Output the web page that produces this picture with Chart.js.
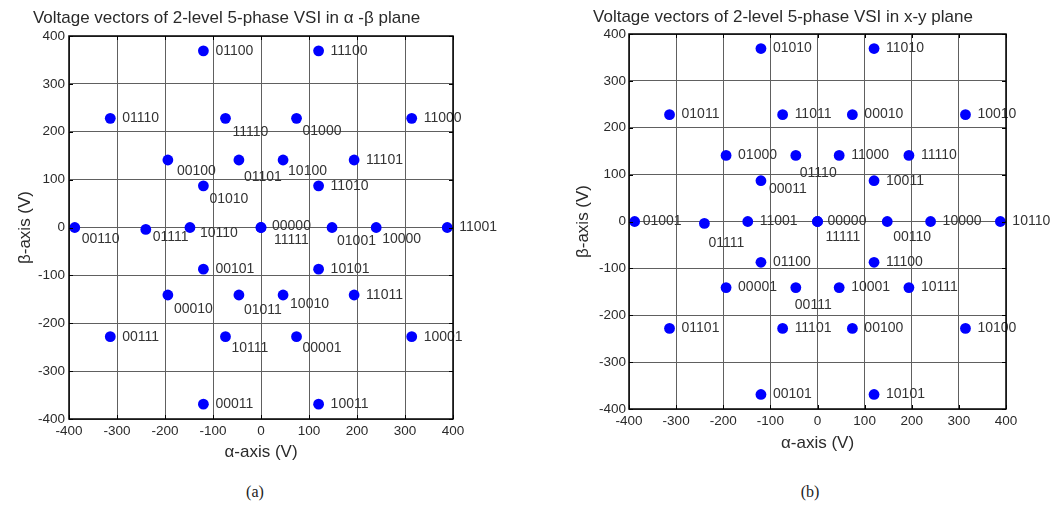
<!DOCTYPE html>
<html>
<head>
<meta charset="utf-8">
<script src="https://cdn.jsdelivr.net/npm/chart.js@4.4.0/dist/chart.umd.min.js"></script>
<style>
  html, body { margin:0; padding:0; background:#fff; overflow:hidden; width:1051px; height:508px; }
  .wrap { position:absolute; }
  .cap { position:absolute; font-family:"Liberation Serif", "Times New Roman", serif; font-size:16px; color:#222; transform:translate(-50%,-50%); }
</style>
</head>
<body>
<div class="wrap" id="w1" style="left:0px;top:0px;width:522px;height:470px;"><canvas id="c1"></canvas></div>
<div class="wrap" id="w2" style="left:560px;top:0px;width:515px;height:460px;"><canvas id="c2"></canvas></div>
<div class="cap" style="left:255px;top:492px;">(a)</div>
<div class="cap" style="left:810px;top:492px;">(b)</div>
<script>
// ---- Data: alpha-beta plane ----
const abLabels = ['01100','11100','01110','11110','01000','11000','00100','01101','10100','11101','01010','11010',
  '00110','01111','10110','00000','11111','01001','10000','11001',
  '00101','10101','00010','01011','10010','11011','00111','10111','00001','10001','00011','10011'];
const abX = [-120,120,-314,-74,74,314,-194,-46,46,194,-120,120,
  -388,-240,-148,0,0,148,240,388,
  -120,120,-194,-46,46,194,-314,-74,74,314,-120,120];
const abY = [369,369,228,228,228,228,141,141,141,141,87,87,
  0,-4,0,0,0,0,0,0,
  -87,-87,-141,-141,-141,-141,-228,-228,-228,-228,-369,-369];

// ---- Data: x-y plane ----
const xyLabels = ['01010','11010','01011','11011','00010','10010','01000','01110','11000','11110','00011','10011',
  '01001','01111','11001','00000','11111','00110','10000','10110',
  '01100','11100','00001','00111','10001','10111','01101','11101','00100','10100','00101','10101'];
const xyX = [-120,120,-314,-74,74,314,-194,-46,46,194,-120,120,
  -388,-240,-148,0,0,148,240,388,
  -120,120,-194,-46,46,194,-314,-74,74,314,-120,120];
const xyY = [369,369,228,228,228,228,141,141,141,141,87,87,
  0,-4,0,0,0,0,0,0,
  -87,-87,-141,-141,-141,-141,-228,-228,-228,-228,-369,-369];

const axisMin = -400, axisMax = 400, axisStep = 100;

// ---- Label placement (styling, not data) ----
const abOffsets = {
  '11110':[7,14],'01000':[6,13],'00100':[9,11],'01101':[5,17],'10100':[5,11],'01010':[6,13],
  '00110':[7,12],'01111':[7,8],'10110':[10,6],'00000':[11,-1],'11111':[13,13],'01001':[5,14],
  '10000':[6,12],'00010':[6,14],'01011':[5,15],'10010':[7,9],'10111':[6,11],'00001':[6,11]
};
const xyOffsets = {
  '01110':[4,18],'00011':[8,8],'01111':[4,20],'11111':[8,16],'00110':[6,16],'00111':[-1,18],
  '00000':[10,0],'01001':[8,0]
};

const FONT = '"Liberation Sans", Arial, sans-serif';

const labelPlugin = {
  id:'pointLabels',
  afterDatasetsDraw(chart) {
    const ds = chart.data.datasets[0];
    const meta = chart.getDatasetMeta(0);
    const offs = chart.options.plugins.pointLabels.offsets;
    const ctx = chart.ctx;
    ctx.save();
    ctx.font = '14px ' + FONT;
    ctx.fillStyle = '#333';
    ctx.textAlign = 'left';
    ctx.textBaseline = 'middle';
    meta.data.forEach((el, i) => {
      const name = ds.names[i];
      const o = offs[name] || [12, 0];
      ctx.fillText(name, el.x + o[0], el.y + o[1]);
    });
    ctx.restore();
  }
};

const framePlugin = {
  id:'frame',
  afterDraw(chart) {
    const {ctx, chartArea:a, scales} = chart;
    ctx.save();
    ctx.strokeStyle = '#000';
    ctx.lineWidth = 1;
    ctx.beginPath();
    scales.x.ticks.forEach(t => {
      const px = Math.round(scales.x.getPixelForValue(t.value)) + 0.5;
      ctx.moveTo(px, a.top); ctx.lineTo(px, a.top + 4);
      ctx.moveTo(px, a.bottom); ctx.lineTo(px, a.bottom - 4);
    });
    scales.y.ticks.forEach(t => {
      const py = Math.round(scales.y.getPixelForValue(t.value)) + 0.5;
      ctx.moveTo(a.left, py); ctx.lineTo(a.left + 4, py);
      ctx.moveTo(a.right, py); ctx.lineTo(a.right - 4, py);
    });
    ctx.stroke();
    ctx.lineWidth = 1.5;
    ctx.strokeRect(a.left, a.top, a.right - a.left, a.bottom - a.top);
    ctx.restore();
  }
};

function makeChart(id, cfg) {
  const points = cfg.xs.map((x, i) => ({x:x, y:cfg.ys[i]}));
  return new Chart(document.getElementById(id), {
    type:'scatter',
    data:{ datasets:[{ data:points, names:cfg.labels, backgroundColor:'#0000ff', borderColor:'#0000ff',
      pointRadius:5.4, pointHoverRadius:5.4, borderWidth:0 }] },
    options:{
      responsive:true, maintainAspectRatio:false, animation:false,
      events:[],
      layout:{ padding:{ left:0, right:cfg.rightPad, top:0, bottom:0 } },
      plugins:{
        legend:{ display:false }, tooltip:{ enabled:false },
        title:{ display:true, text:cfg.title, color:'#2a2a2a',
          font:{ family:FONT, size:17, weight:'normal' }, padding:cfg.titlePad },
        pointLabels:{ offsets:cfg.offsets }
      },
      scales:{
        x:{ type:'linear', min:axisMin, max:axisMax,
          ticks:{ stepSize:axisStep, color:'#2a2a2a', font:{ family:FONT, size:13.5 }, padding:4, maxRotation:0 },
          grid:{ color:'#606060', lineWidth:1, drawTicks:false },
          border:{ display:false },
          title:{ display:true, text:'\u03b1-axis (V)', color:'#2a2a2a', font:{ family:FONT, size:17 }, padding:{ top:0, bottom:cfg.xTitlePad } },
          afterFit(s){ s.height = cfg.xHeight; }
        },
        y:{ type:'linear', min:axisMin, max:axisMax,
          ticks:{ stepSize:axisStep, color:'#2a2a2a', font:{ family:FONT, size:13.5 }, padding:cfg.yTickPad },
          grid:{ color:'#606060', lineWidth:1, drawTicks:false },
          border:{ display:false },
          title:{ display:true, text:'\u03b2-axis (V)', color:'#2a2a2a', font:{ family:FONT, size:17 }, padding:{ top:cfg.yTitlePad, bottom:0 } },
          afterFit(s){ s.width = cfg.yWidth; }
        }
      }
    },
    plugins:[labelPlugin, framePlugin]
  });
}

makeChart('c1', { labels:abLabels, xs:abX, ys:abY, offsets:abOffsets,
  title:'Voltage vectors of 2-level 5-phase VSI in \u03b1 -\u03b2 plane',
  titlePad:{ top:8, bottom:7.6 }, rightPad:69, yWidth:69, xHeight:51, xTitlePad:7.8, yTitlePad:14.8, yTickPad:4 });
makeChart('c2', { labels:xyLabels, xs:xyX, ys:xyY, offsets:xyOffsets,
  title:'Voltage vectors of 2-level 5-phase VSI in x-y plane',
  titlePad:{ top:7.5, bottom:6.1 }, rightPad:69, yWidth:69, xHeight:51, xTitlePad:6.8, yTitlePad:12.8, yTickPad:3 });
</script>
</body>
</html>
